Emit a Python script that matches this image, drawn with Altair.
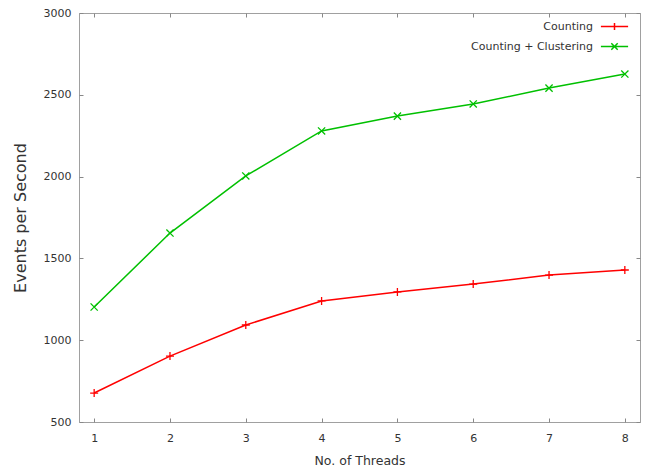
import altair as alt
import pandas as pd

threads = [1, 2, 3, 4, 5, 6, 7, 8]
counting = [677, 903, 1093, 1240, 1295, 1343, 1398, 1429]
clustering = [1203, 1655, 2004, 2279, 2370, 2444, 2541, 2627]
series = ["Counting", "Counting + Clustering"]
colors = ["#ff0000", "#00c000"]
x_ticks = [1, 2, 3, 4, 5, 6, 7, 8]
y_ticks = [500, 1000, 1500, 2000, 2500, 3000]

rows = []
for name, vals in zip(series, [counting, clustering]):
    for t, v in zip(threads, vals):
        rows.append({"threads": t, "value": v, "series": name})
df = pd.DataFrame(rows)

FONT = "DejaVu Sans"
plus = "M-1,0H1M0,-1V1"
cross = "M-0.9,-0.9L0.9,0.9M-0.9,0.9L0.9,-0.9"
leg_plus = "M-3.4,0H3.4M0,-0.9V0.9"
leg_cross = "M-3.4,0H3.4M-0.8,-0.8L0.8,0.8M-0.8,0.8L0.8,-0.8"

x_scale = alt.Scale(domain=[0.8, 8.2], nice=False, zero=False)
y_scale = alt.Scale(domain=[500, 3000], nice=False, zero=False)
color_scale = alt.Scale(domain=series, range=colors)

bottom_axis = alt.Axis(orient="bottom", values=x_ticks, offset=-4, domain=False, tickSize=4,
                       labelPadding=10, title="No. of Threads", titleFontSize=12.5,
                       titlePadding=11, format="d")
left_axis = alt.Axis(orient="left", values=y_ticks, offset=-4, domain=False, tickSize=4,
                     labelPadding=8, title="Events per Second", titleFontSize=16,
                     titlePadding=15, format="d")
top_axis = alt.Axis(orient="top", values=x_ticks, offset=-4, domain=False, tickSize=4,
                    labels=False, title=None)
right_axis = alt.Axis(orient="right", values=y_ticks, offset=-4, domain=False, tickSize=4,
                      labels=False, title=None)

base = alt.Chart(df)

legend_layer = base.transform_filter("false").mark_point(
    size=64, filled=False, strokeWidth=1.5, opacity=1
).encode(
    x=alt.X("threads:Q", scale=x_scale, axis=top_axis),
    y=alt.Y("value:Q", scale=y_scale, axis=right_axis),
    color=alt.Color("series:N", scale=color_scale, legend=alt.Legend(title=None)),
    shape=alt.Shape("series:N", scale=alt.Scale(domain=series, range=[leg_plus, leg_cross]),
                    legend=alt.Legend(title=None)),
)

lines = base.mark_line(strokeWidth=1.5).encode(
    x=alt.X("threads:Q", scale=x_scale, axis=bottom_axis),
    y=alt.Y("value:Q", scale=y_scale, axis=left_axis),
    color=alt.Color("series:N", scale=color_scale, legend=None),
)

marker_layers = []
for name, shp in zip(series, [plus, cross]):
    marker_layers.append(
        base.transform_filter(alt.datum.series == name)
        .mark_point(shape=shp, size=64, filled=False, strokeWidth=1.3, opacity=1)
        .encode(
            x=alt.X("threads:Q", scale=x_scale, axis=None),
            y=alt.Y("value:Q", scale=y_scale, axis=None),
            color=alt.Color("series:N", scale=color_scale, legend=None),
        )
    )

chart = alt.layer(legend_layer, lines, *marker_layers).resolve_axis(
    x="independent", y="independent"
).properties(
    width=561, height=409,
    padding={"left": 79, "top": 13, "right": 8, "bottom": 46},
    autosize="none",
    background="white",
).configure_view(
    stroke="#a0a0a0", strokeWidth=1
).configure_axis(
    labelFont=FONT, titleFont=FONT, labelFontSize=11, labelColor="#333333",
    titleColor="#333333", titleFontWeight="normal", tickColor="#888888", grid=False,
).configure_legend(
    orient="none", legendX=400, legendY=8, padding=0,
    labelFont=FONT, labelFontSize=11, labelColor="#333333",
    labelAlign="right", labelOffset={"expr": "-27"}, symbolOffset=130,
    rowPadding=6, symbolStrokeWidth=1.5, symbolSize=64,
)

chart.save("out.html", embed_options={"renderer": "svg", "actions": False})
